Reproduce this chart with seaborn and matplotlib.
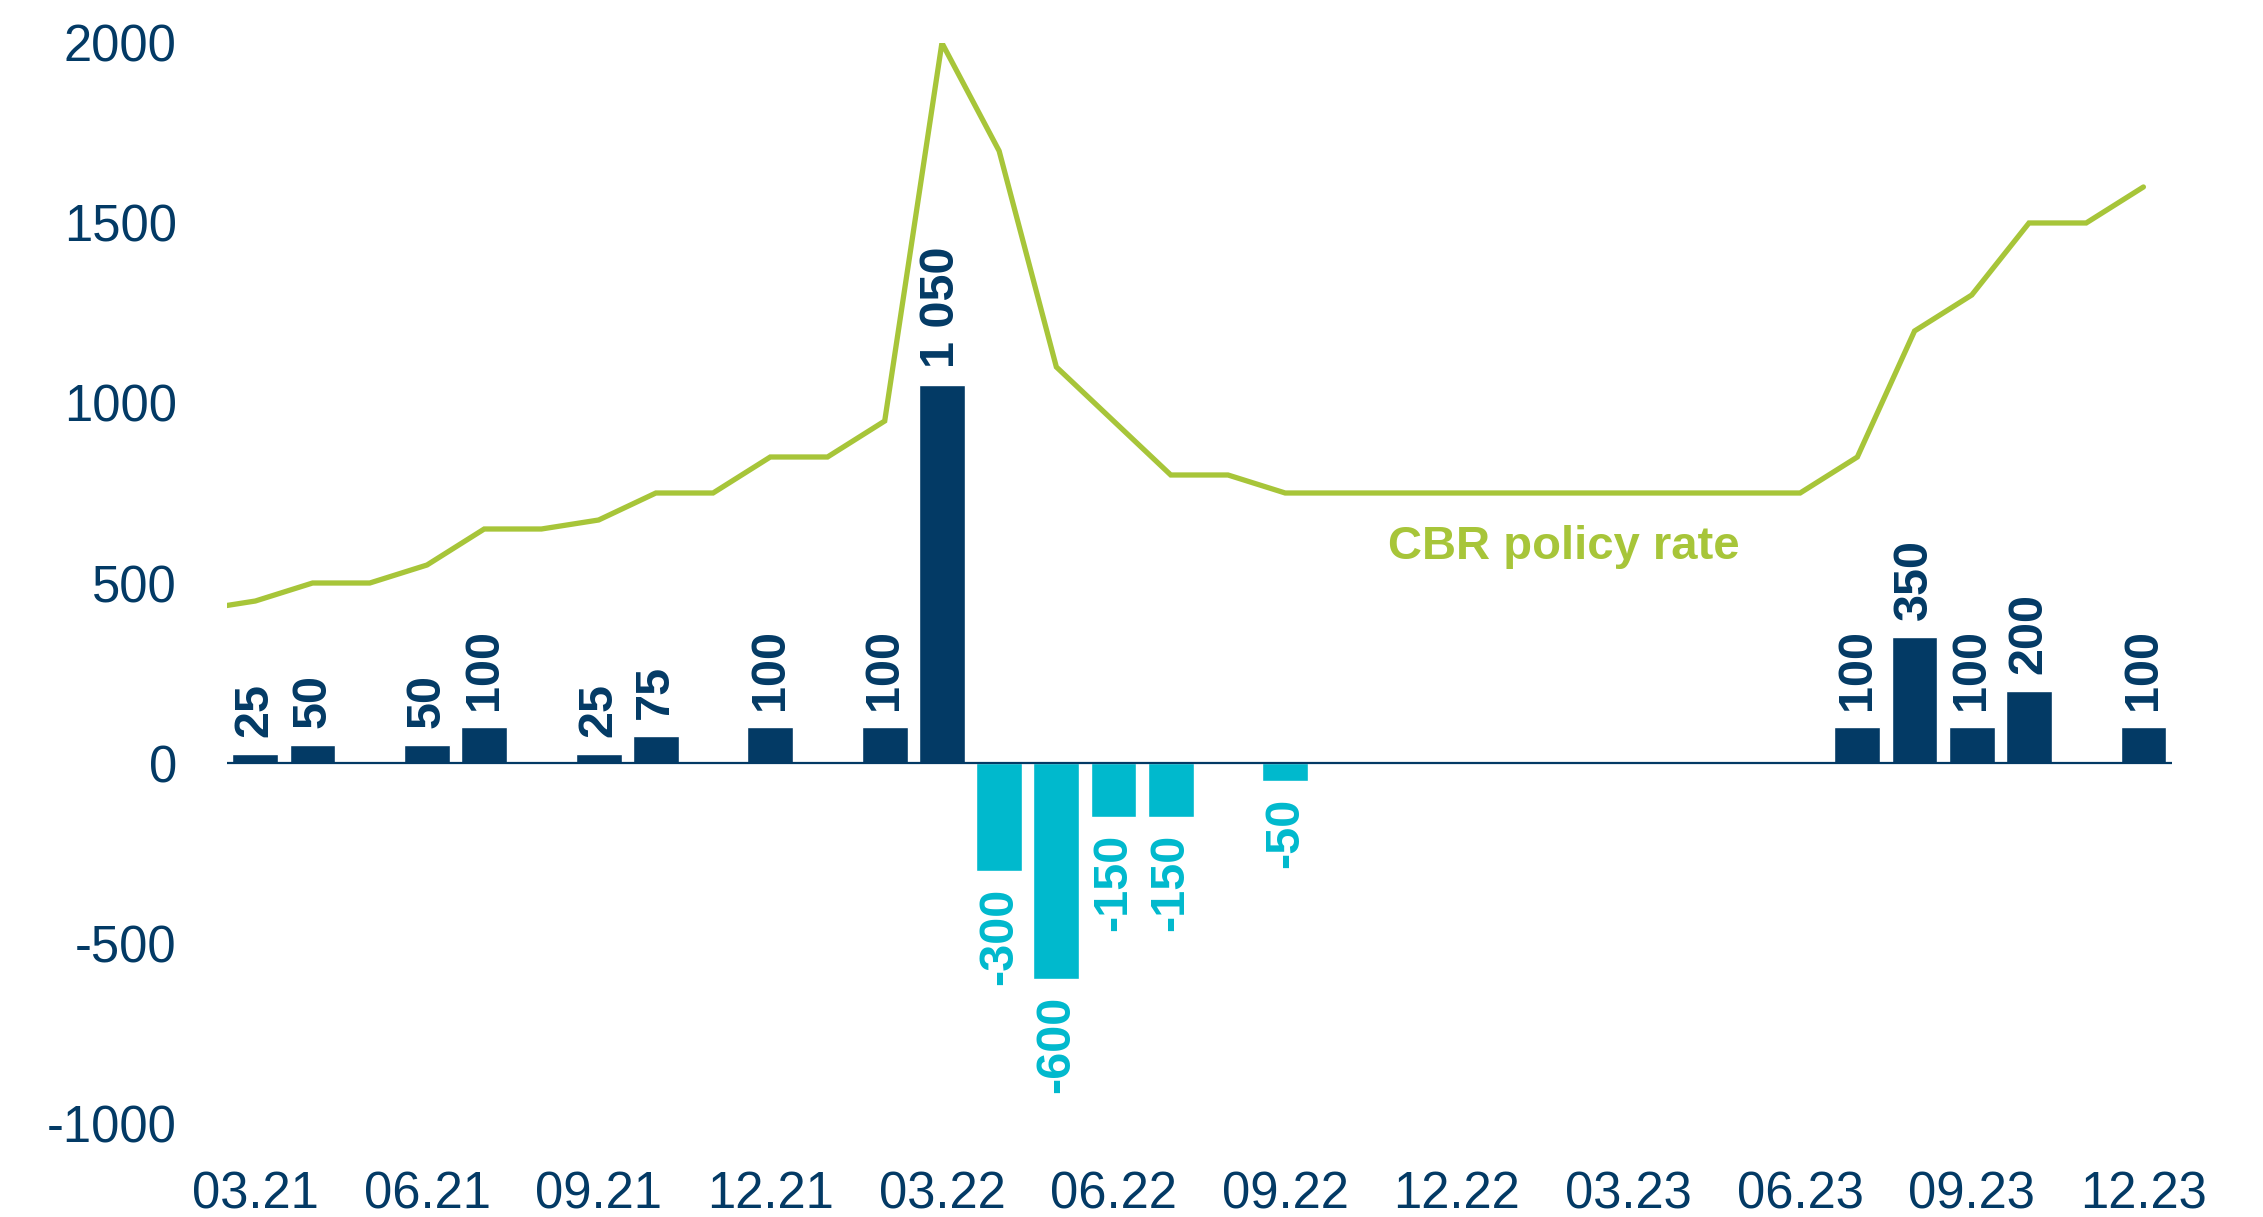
import numpy as np
import pandas as pd
import matplotlib
matplotlib.use("Agg")
import matplotlib.pyplot as plt
import seaborn as sns

# ---------------- data ----------------
months = ["02.21", "03.21", "04.21", "05.21", "06.21", "07.21", "08.21", "09.21",
          "10.21", "11.21", "12.21", "01.22", "02.22", "03.22", "04.22", "05.22",
          "06.22", "07.22", "08.22", "09.22", "10.22", "11.22", "12.22", "01.23",
          "02.23", "03.23", "04.23", "05.23", "06.23", "07.23", "08.23", "09.23",
          "10.23", "11.23", "12.23"]

policy_rate = [425, 450, 500, 500, 550, 650, 650, 675, 750, 750, 850, 850, 950,
               2000, 1700, 1100, 950, 800, 800, 750, 750, 750, 750, 750, 750,
               750, 750, 750, 750, 850, 1200, 1300, 1500, 1500, 1600]

change_months = ["03.21", "04.21", "06.21", "07.21", "09.21", "10.21", "12.21",
                 "02.22", "03.22", "04.22", "05.22", "06.22", "07.22", "09.22",
                 "07.23", "08.23", "09.23", "10.23", "12.23"]
change_values = [25, 50, 50, 100, 25, 75, 100, 100, 1050, -300, -600, -150, -150,
                 -50, 100, 350, 100, 200, 100]

tick_months = ["03.21", "06.21", "09.21", "12.21", "03.22", "06.22", "09.22",
               "12.22", "03.23", "06.23", "09.23", "12.23"]
y_ticks = [-1000, -500, 0, 500, 1000, 1500, 2000]

NAVY = "#033A65"
CYAN = "#00B9CD"
GREEN = "#A7C539"

# ---------------- style ----------------
sns.set_style("white")
plt.rcParams["font.family"] = ["Liberation Sans", "DejaVu Sans"]

fig = plt.figure(figsize=(22.63, 12.17), dpi=100)
ax = fig.add_axes([0.1002, 0.0772, 0.8596, 0.8875])

df = pd.DataFrame({"month": change_months, "value": change_values})
df["sign"] = np.where(df["value"] >= 0, "up", "down")

sns.barplot(data=df, x="month", y="value", hue="sign", order=months,
            hue_order=["up", "down"], palette={"up": NAVY, "down": CYAN},
            dodge=False, width=0.8, legend=False, ax=ax, saturation=1)

pos = np.arange(len(months))
sns.lineplot(x=pos, y=policy_rate, color=GREEN, linewidth=3.8, ax=ax,
             sort=False, solid_joinstyle="miter")

ax.axhline(0, color=NAVY, lw=1.6, zorder=1)

def fmt(v):
    return f"{v:,.0f}".replace(",", " ")

for cont, col in zip(ax.containers, [NAVY, CYAN]):
    ax.bar_label(cont, fmt=fmt, padding=12, rotation=90, color=col,
                 fontsize=35, fontweight="bold")

ax.text(months.index("03.21") + 19.8, 566, "CBR policy rate", color=GREEN,
        fontsize=34, fontweight="bold", ha="left", va="baseline")

ax.set_xlim(0.5, len(months) - 0.5)
ax.set_ylim(-1000, 2000)
ax.set_xticks([months.index(m) for m in tick_months])
ax.set_xticklabels(tick_months)
ax.set_yticks(y_ticks)
ax.set_yticklabels([str(t) for t in y_ticks])
ax.tick_params(axis="both", length=0, labelsize=36.5, labelcolor=NAVY)
ax.tick_params(axis="x", pad=34)
ax.tick_params(axis="y", pad=36)
ax.set_xlabel("")
ax.set_ylabel("")
for s in ax.spines.values():
    s.set_visible(False)

fig.savefig("out.png", dpi=100)
